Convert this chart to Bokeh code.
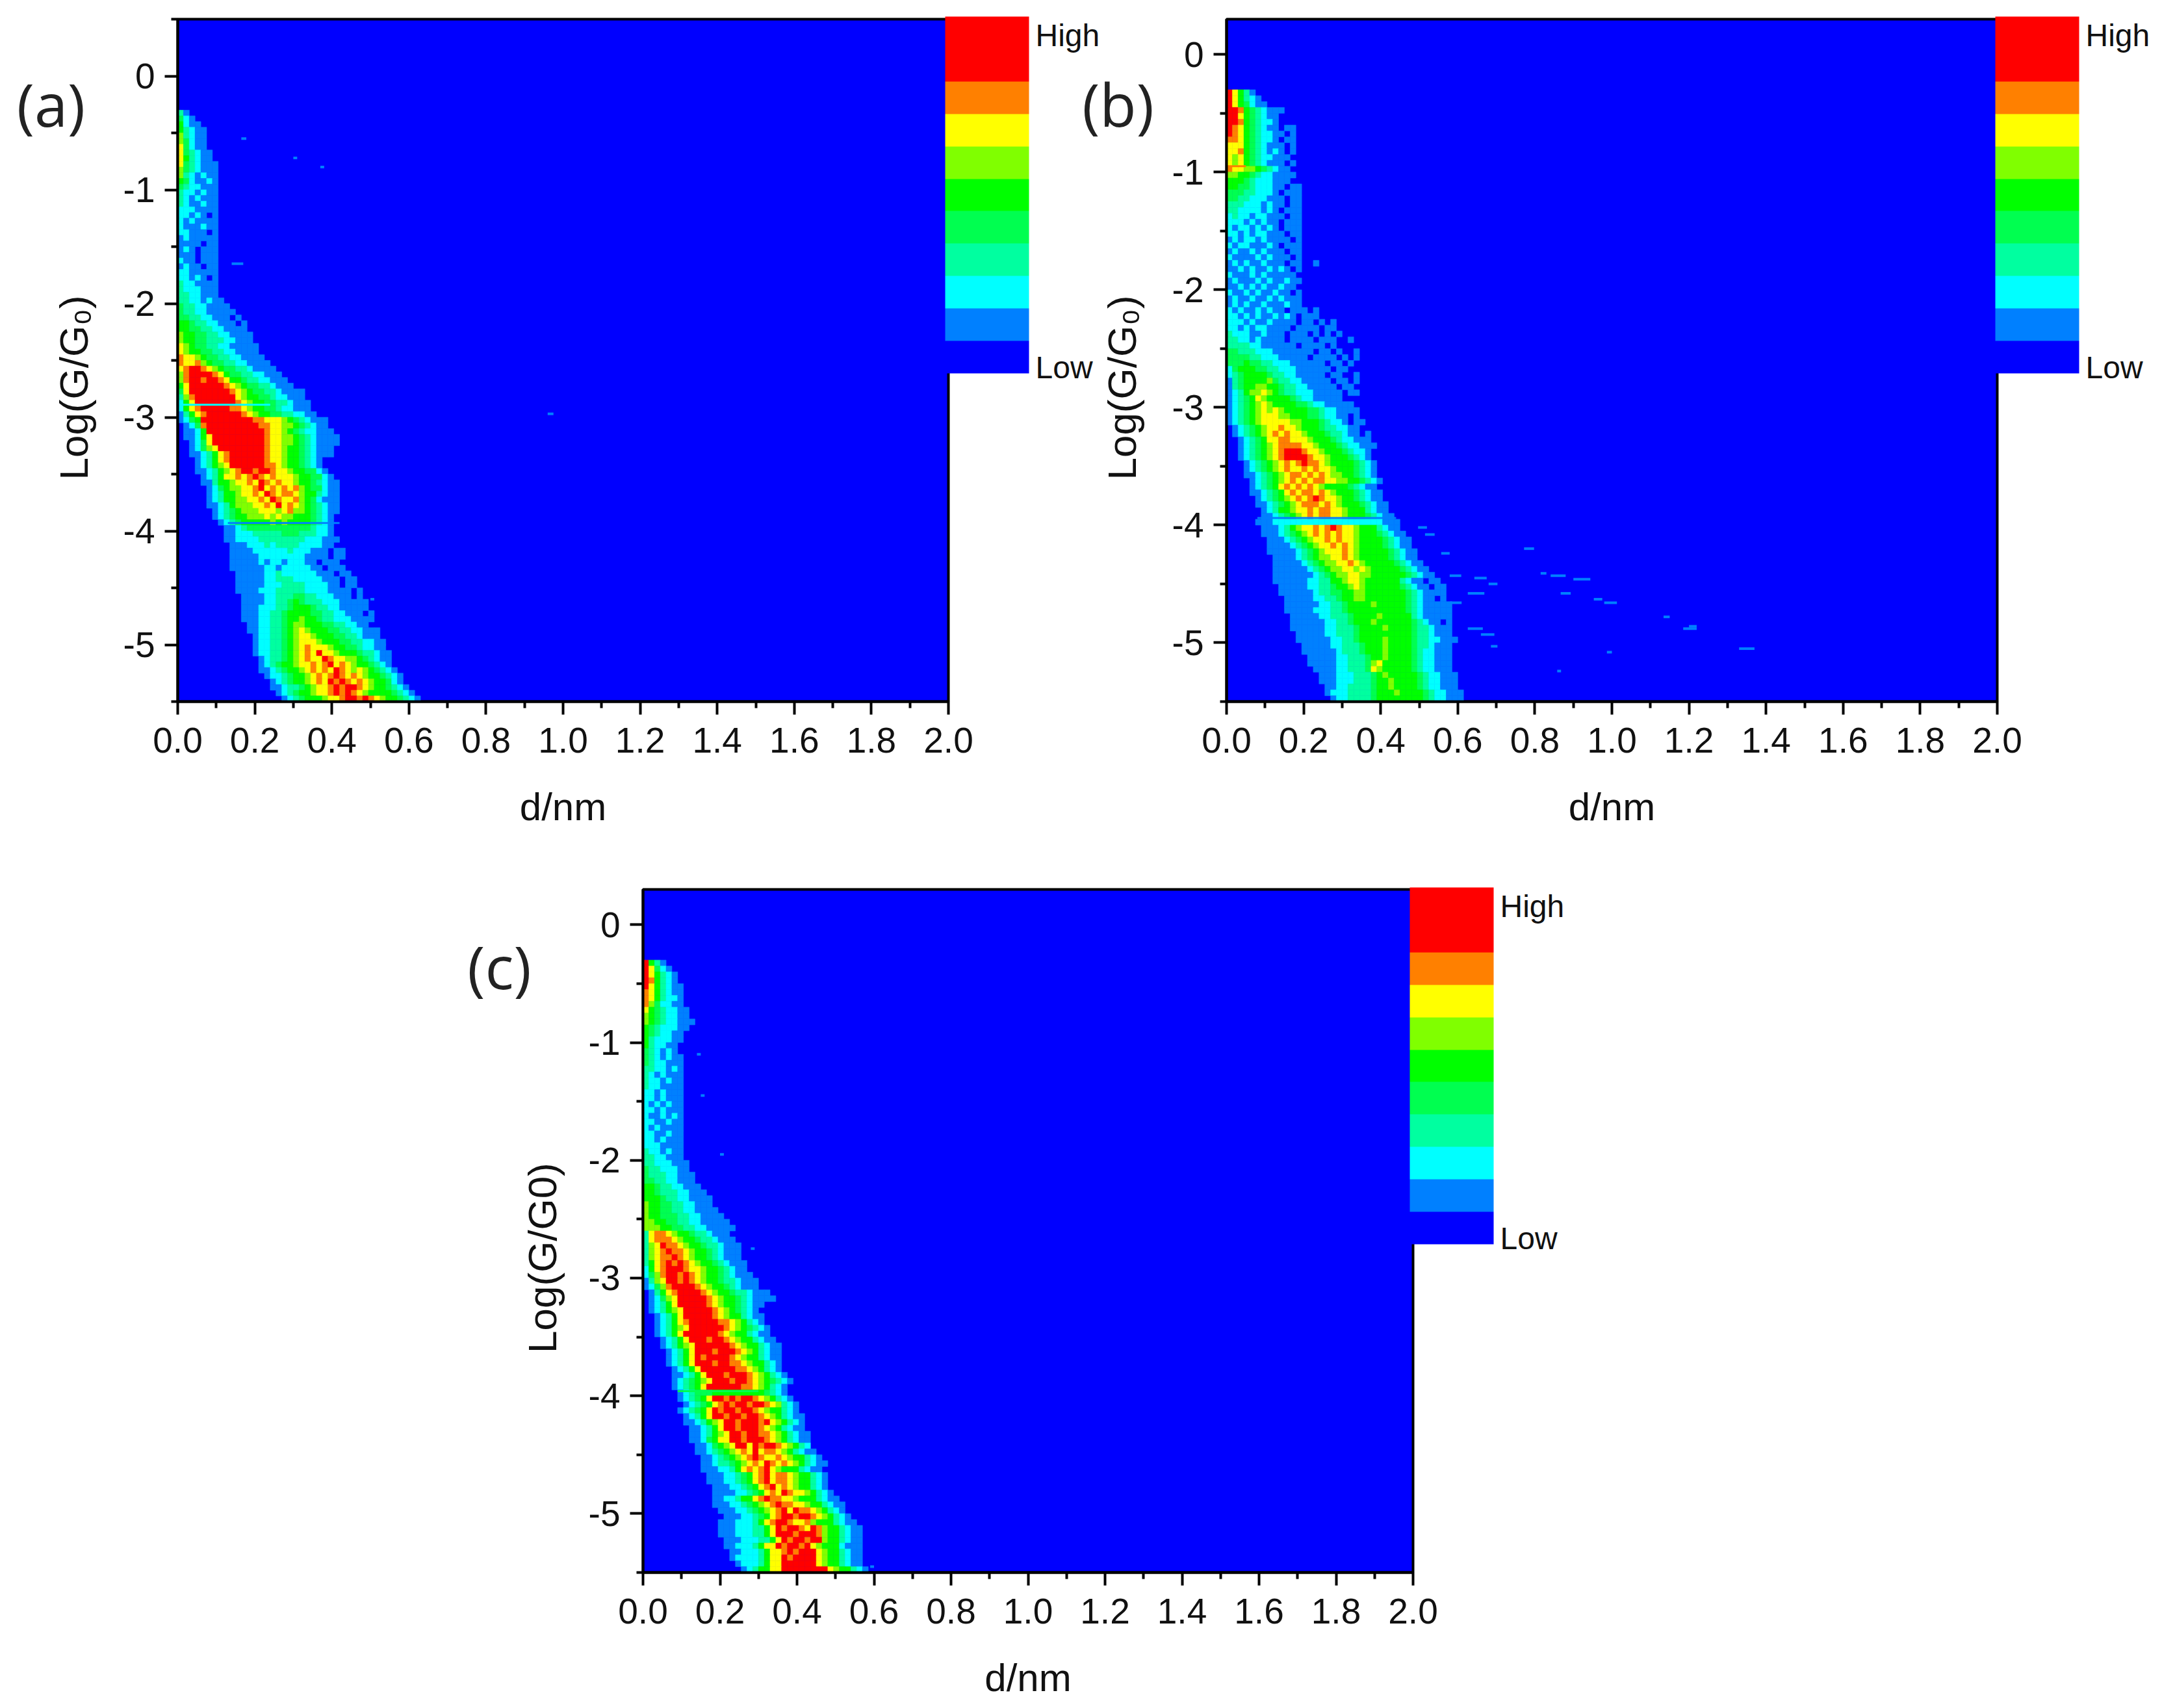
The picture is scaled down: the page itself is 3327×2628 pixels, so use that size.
from bokeh.embed import file_html
from bokeh.resources import INLINE
from bokeh.plotting import figure
from bokeh.layouts import column, row
from bokeh.models import (ColumnDataSource, Range1d, FixedTicker, LinearColorMapper, ColorBar, Label, Spacer)
import math

FONT = "Liberation Sans"
palette = ["#0000ff", "#0080ff", "#00ffff", "#00ffa0", "#00ff50", "#00ff00", "#80ff00", "#ffff00", "#ff8000", "#ff0000", "#ff0000"]
x_ticks = [0.0, 0.2, 0.4, 0.6, 0.8, 1.0, 1.2, 1.4, 1.6, 1.8, 2.0]
x_minor = [0.1, 0.3, 0.5, 0.7, 0.9, 1.1, 1.3, 1.5, 1.7, 1.9]
x_labels = ["0.0", "0.2", "0.4", "0.6", "0.8", "1.0", "1.2", "1.4", "1.6", "1.8", "2.0"]
y_ticks = [0, -1, -2, -3, -4, -5]
y_minor_a = [0.5, -0.5, -1.5, -2.5, -3.5, -4.5, -5.5]
y_minor_bc = [-0.5, -1.5, -2.5, -3.5, -4.5, -5.5]
y_labels = ["0", "-1", "-2", "-3", "-4", "-5"]

# Histogram cells: one string per 0.05 step of Log(G/G0), from -0.30 down;
# "start column|levels", a column being 0.015 nm wide; level 0-9 indexes the palette.
DD = 0.015
DY = 0.05
panel_a_rows = [
"0|31","0|421","0|5211","0|53211","0|63211","0|64211","0|74211","0|743211","0|753211","0|7432111",
"0|6432111","0|6321211","0|5421121","0|4322111","0|3221211","0|3212111","0|3211211","0|2221111","0|2212101","0|2121111",
"0|2111211","0|2211101","0|1211111","0|1111011","0|1210111","0|1110111","0|2110111","0|1211011","0|2211111","0|2212101",
"0|3221111","0|3222111","0|3322111","0|33221211","0|433221111","0|4332211111","0|44332211101","0|554332211101","0|554433221111","0|6554433221111",
"0|6554433322111","0|76544332211111","0|76554433221111","0|877654433221111","0|8778654433221111","0|78998765443321111","0|689999875443322111","0|6899899875543322111","0|57999999876544332111","0|4799999998765443321111",
"0|3689999999765544322111","0|25799999998765544332111","0|25789999988765544322111","0|135789999998765544332211","0|12459999999998877765432111","1|1248999999999887766543211","1|11259999999999877654322111","1|112579999999998776654321111","2|12479999999998776654321111","2|12467999999998776554321110",
"2|1123578999999877655432111","3|1235789999998776554321","3|1235679999998876554321","3|11235678998998776554421","4|12357787898787776554421","4|113556778798787765543211","5|12456677897878786544211","5|12355677879878876553211","5|12355667787987786542111","5|11235666778797876543211",
"6|1234566677767866543211","6|123455666767665554321","7|12345555565655554321","8|1123444444444443221","8|1122233333444333221","8|11222233333333222111","9|1112223233332222110","9|11112222223222111011","9|11111222222221111011","9|11111212212221101110",
"9|111111221222221101110","10|11111223222222111011","10|111112233322222111011","10|111112223333222211011","10|1111222333332222111101","11|111122333443322211101","11|1111223345433322211111","11|1112223345554332211111","11|11122334555544332211101","11|11122334556554332221111",
"12|1122334566555443322110","12|11223345676555443322111","13|1223345677655544332111","13|12233456777655544332211","13|12233456787776554432211","13|122334567879776555433211","14|12334567877987766543211","14|12345567787897876554321","14|112345567878798767654321","15|122345567878987876554321",
"16|12345567879898787655421","16|112334567789899876554321","17|123455677898987655554321","18|123455567789989876554321",
]
panel_b_rows = [
"0|97531","0|975321","0|9754211","0|9985432111","0|997543211","0|998543221","0|987543211011","0|987543221101","0|887543221011","0|777543211101",
"0|778543212101","0|767543221110","0|767543211101","0|877665432110","0|6655432211110","0|55543222111","0|5544322211011","0|4443322210111","0|4433222111011","0|3332221211011",
"0|3322221210111","0|2322122111011","0|2221212110111","0|2122121210111","0|2212122111011","0|1212212111101","0|2122111210111","0|1211212111011","0|2111121211101","0|1212112111011001",
"0|1121211212101","0|2111212111110","0|1211121211211","0|1121212112110","0|2112121121101","0|1211211212111","0|1212112111211","0|2121121211011101","0|2212121121210111","0|2221211211110110101",
"0|2212122111101111011","0|32221121110111010101","0|3322121111011110111001","0|33332211111101111010","0|44333222111111101101001","0|44443322211111011110101","0|4445443322211111101101","0|245554433222111111011","0|23455554332211111011001","0|134555564332211111011010",
"0|13455665543322111110110","0|12356676543322211111011","0|123457655554322111110","0|1234567655554432211111","0|12345676765555443221111","0|12345677766555443221101","0|123456777776655543221011","1|12345677877655543322110","1|123456787877655543321101","1|012345778877765554322111",
"1|0123456788887765554322111","2|12345678999877655543221","2|12345678999987765554321","2|012345678789887655554321","3|12345678778787765554321","3|11234567887878766554321","3|012345678787887766554321","4|1234578787876555543211","4|11234578788787655543211","5|1234567878987765543211",
"5|11234567888787655543211","6|1235567787887765553211","6|11234567878877655543211","5|1112222222222222222222111","6|111235677878987765553211","6|1112345678787877655543211","7|1112345677878776555543211","7|1111234567787876555543211","7|11111234567778765555543211","7|01111234566778765555543211",
"8|11111234566778765555543211","8|111111234566776765555543211","8|1111111234566776655555543211","8|11111122335567765555553211011","9|11111223345567655555543211011","9|11111123344556655555554321111","10|1111122334556655555554321101","10|11111122334555565555543211111","10|11111222334555555555543211111","11|1111122333455556555553211111",
"11|1111112233455565555554321101","11|1111112233345555655554332111","12|111112233345555555554332111","12|1111112233455556555543322111","13|11111223334555655554332111","13|11111123334555655554322111","14|1111122333455655554322111","14|1111122333467555554322111","15|111122333476555554322111","15|0111222333456555554322111",
"16|111222333455655554322111","16|011223333455655554322111","16|0122233334555655554322111","16|0012233334555555554322111",
]
panel_c_rows = [
"0|9531","0|97421","0|975321","0|985321","0|9753211","0|8753211","0|8753221","0|8642211","0|75432211","0|65432211",
"0|654322111","0|54322211","0|5432211","0|5322211","0|532211","0|432121","0|4321211","0|4322111","0|3322121","0|3212111",
"0|3221211","0|3221111","0|2212111","0|2212111","0|2121211","0|2212111","0|2112121","0|2211211","0|2121111","0|2211211",
"0|2212111","0|2221111","0|3221211","0|3322111","0|33222111","0|43322211","0|433322111","0|443322111","0|5543322111","0|55433322111",
"0|555433221111","0|655443322111","0|6554433221111","0|65544433221111","0|665544332211111","0|6665544332211111","0|378876554332111","0|3788876554332111","0|36798876554332111","0|36789887655432111",
"0|36788987655432111","0|357898987655432111","0|257899987765543211","0|2468998987655432111","0|13679989876554332111","0|12468999987655432111","1|135789999876554332111","1|1246799999876554321111","1|12357999998765543211","1|1235679999987654321",
"1|01235799999876553211","2|1235789999988765321","2|12356799999987654321","2|12357999999876553211","3|12357999899876553211","3|123567999999876553211","3|012357999899987653211","3|012357989999876553211","4|12357999899887655321","4|01235799999988765321",
"4|011235799989998765321","5|123456799989987654321","5|12345799999988765321","6|1234445555555554321","6|12345799898998765321","6|012345789899899876321","6|123457989989987655321","7|123579989989987653211","7|112356799899989765321","7|011235799899987653211",
"8|112356799899887653211","8|112457799899987653211","8|011245679979899876532","9|112345678797887653211","9|0112345678987787655321","10|1123345678798787653211","10|111223578789765553211","10|0111223457897887655321","11|111223457897887655321","11|011122345789787655321",
"11|0111122345787987765321","12|1122355789887765553211","12|11122345678988776553211","12|01112234567897988765321","12|001112234578998998765321","12|0111222357899877865553211","13|1112223357989987986553211","13|1112223357999899986553211","13|0111222335798998996553211","14|112223577989989765552111",
"14|011222357789899976553211","15|12222357798999976553211","16|1222357799999976553211","17|1235577999999997655321",
]

# Thin horizontal seams in the histograms: y, d from, d to, level
a_seam_y, a_seam_d0, a_seam_d1, a_seam_level = [-2.89, -3.93], [0.0, 0.13], [0.24, 0.42], [2, 1]
b_seam_y, b_seam_d0, b_seam_d1, b_seam_level = [-0.95, -3.94], [0.0, 0.08], [0.05, 0.44], [8, 1]
c_seam_y, c_seam_d0, c_seam_d1, c_seam_level = [-3.96], [0.09], [0.30], [4]

# Stray streaks right of the bands: y, d from, d to
a_tail_y = [-0.55, -0.72, -0.8, -1.65, -2.97, -4.6, -5.0]
a_tail_d0 = [0.165, 0.30, 0.37, 0.14, 0.96, 0.50, 0.53]
a_tail_d1 = [0.178, 0.31, 0.38, 0.17, 0.975, 0.51, 0.54]
b_tail_y = [-4.02, -4.08, -4.24, -4.43, -4.45, -4.5, -4.58, -4.2, -4.43, -4.46, -4.58, -4.63, -4.66, -4.88, -4.93, -5.03, -5.08, -5.24, -4.88, -4.78, -4.41, -4.66, -5.05, -4.86]
b_tail_d0 = [0.497, 0.515, 0.557, 0.579, 0.643, 0.68, 0.626, 0.772, 0.841, 0.90, 0.867, 0.953, 0.98, 0.626, 0.66, 0.686, 0.987, 0.858, 1.185, 1.134, 0.815, 0.58, 1.33, 1.20]
b_tail_d1 = [0.52, 0.54, 0.579, 0.609, 0.675, 0.703, 0.669, 0.798, 0.88, 0.944, 0.893, 0.975, 1.013, 0.665, 0.695, 0.703, 1.0, 0.868, 1.22, 1.15, 0.83, 0.61, 1.37, 1.22]
c_tail_y = [-1.1, -1.45, -1.95, -2.75, -5.45]
c_tail_d0 = [0.14, 0.15, 0.20, 0.28, 0.59]
c_tail_d1 = [0.15, 0.16, 0.21, 0.29, 0.60]

mapper = LinearColorMapper(palette=palette, low=0, high=11)

def cells(rows):
    left, right, top, bottom, lvl = [], [], [], [], []
    for r, text in enumerate(rows):
        start, levels = text.split("|")
        for i, c in enumerate(levels):
            if c != "0":
                col = int(start) + i
                left.append(col * DD)
                right.append((col + 1) * DD)
                top.append(-0.30 - r * DY)
                bottom.append(-0.30 - (r + 1) * DY)
                lvl.append(int(c) + 0.5)
    return ColumnDataSource(dict(left=left, right=right, top=top, bottom=bottom, lvl=lvl))

def panel(rows, seam, tail, y_top, y_minor, ylabel, tag, tag_xy, label_xy, size, bar_at):
    width, height, bl, br, bt, bb = size
    p = figure(width=width, height=height, x_range=Range1d(0, 2), y_range=Range1d(-5.5, y_top),
               output_backend="svg", toolbar_location=None, min_border_left=bl, min_border_right=br,
               min_border_top=bt, min_border_bottom=bb, background_fill_color=palette[0],
               border_fill_color=None, outline_line_color="black", outline_line_width=4)
    p.grid.visible = False
    p.quad(left="left", right="right", top="top", bottom="bottom", source=cells(rows),
           fill_color={"field": "lvl", "transform": mapper}, line_color={"field": "lvl", "transform": mapper}, line_width=0.6)
    sy, s0, s1, sl = seam
    p.segment(x0=s0, x1=s1, y0=sy, y1=sy, line_width=3, line_color=[palette[v] for v in sl])
    ty, t0, t1 = tail
    p.segment(x0=t0, x1=t1, y0=ty, y1=ty, line_width=4, line_color=palette[1])
    xa, ya = p.xaxis[0], p.yaxis[0]
    xa.ticker = FixedTicker(ticks=x_ticks, minor_ticks=x_minor)
    ya.ticker = FixedTicker(ticks=y_ticks, minor_ticks=y_minor)
    xa.major_label_overrides = dict(zip(x_ticks, x_labels))
    ya.major_label_overrides = dict(zip(y_ticks, y_labels))
    xa.axis_label = "d/nm"
    xa.axis_label_text_font = FONT
    xa.axis_label_text_font_size = "60px"
    xa.axis_label_text_font_style = "normal"
    xa.axis_label_text_color = "#111111"
    xa.axis_label_standoff = 47
    for ax in (xa, ya):
        ax.axis_line_width = 4
        ax.major_tick_line_width = 4
        ax.minor_tick_line_width = 4
        ax.major_tick_in = 0
        ax.minor_tick_in = 0
        ax.major_tick_out = 20
        ax.minor_tick_out = 10
        ax.major_label_text_font = FONT
        ax.major_label_text_font_size = "55px"
        ax.major_label_text_color = "#111111"
        ax.major_label_standoff = 20
    ya.major_label_standoff = 15
    p.add_layout(Label(x=label_xy[0], y=label_xy[1], x_units="screen", y_units="screen", text=ylabel, angle=math.pi / 2,
                       text_align="center", text_baseline="middle", text_font=FONT, text_font_size="62px",
                       text_color="#111111"), "left")
    p.add_layout(Label(x=tag_xy[0], y=tag_xy[1], x_units="screen", y_units="screen", text=tag, text_align="center",
                       text_baseline="middle", text_font="Open Sans", text_font_size="92px", text_color="#222222"), "left")
    bar = ColorBar(color_mapper=mapper, location=bar_at, width=129, height=549, padding=0, margin=0,
                   ticker=FixedTicker(ticks=[0.18, 10.42]), major_label_overrides={0.18: "Low", 10.42: "High"},
                   major_tick_line_color=None, minor_tick_line_color=None, bar_line_color=None,
                   border_line_color=None, background_fill_color=None, major_label_text_font=FONT,
                   major_label_text_font_size="48px", major_label_text_color="#111111", label_standoff=10)
    p.add_layout(bar)
    return p

pa = panel(panel_a_rows, (a_seam_y, a_seam_d0, a_seam_d1, a_seam_level), (a_tail_y, a_tail_d0, a_tail_d1), 0.5, y_minor_a,
           "Log(G/G\u2080)", "(a)", (66, 920), (-4, 483), (1730, 1290, 273, 271, 29, 211), (1181, 505))
pb = panel(panel_b_rows, (b_seam_y, b_seam_d0, b_seam_d1, b_seam_level), (b_tail_y, b_tail_d0, b_tail_d1), 0.3, y_minor_bc,
           "Log(G/G\u2080)", "(b)", (100, 920), (-5, 483), (1700, 1290, 267, 247, 29, 211), (1183, 505))
pb.margin = (0, 0, 0, -110)
pc = panel(panel_c_rows, (c_seam_y, c_seam_d0, c_seam_d1, c_seam_level), (c_tail_y, c_tail_d0, c_tail_d1), 0.3, y_minor_bc,
           "Log(G/G0)", "(c)", (33, 933), (1, 484), (1750, 1330, 289, 276, 78, 201), (1180, 505))

page = column(row(pa, pb), row(Spacer(width=700, height=10), pc), spacing=0)
open("out.html", "w").write(file_html(page, INLINE))
